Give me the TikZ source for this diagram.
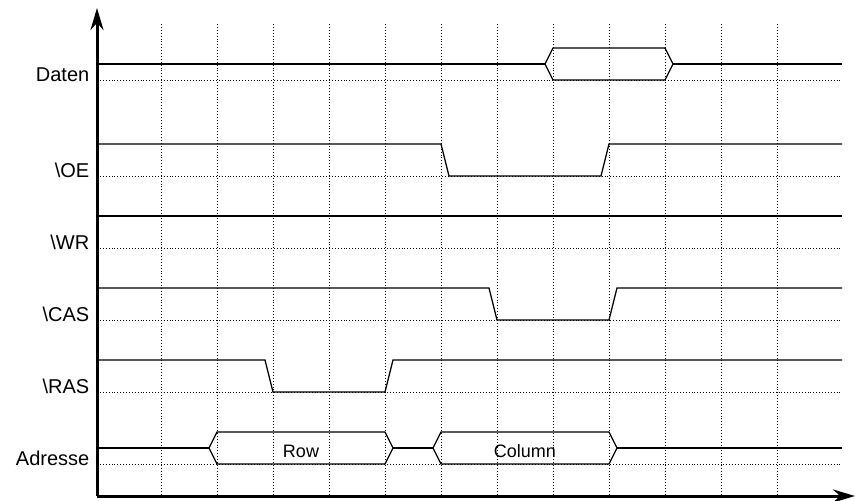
\documentclass[tikz,border=0pt]{standalone}
\usepackage{fontspec}
\setmainfont{Liberation Sans}
\usetikzlibrary{arrows.meta}

\tikzset{
  sig/.style={line width=1.3pt, black, line join=miter},
  helpline/.style={dotted, line width=0.9pt, black},
  axisline/.style={line width=3pt, black, -{Stealth[length=22pt, width=13pt]}},
  siglabel/.style={anchor=base east, inner sep=0pt, font=\fontsize{20}{24}\selectfont},
  buslabel/.style={anchor=base, inner sep=0pt, font=\fontsize{18}{22}\selectfont}
}

\begin{document}
\begin{tikzpicture}[x=1pt, y=-1pt]
      \useasboundingbox (0,0) rectangle (855,501);

      \foreach \x in {161,217,...,777}
        \draw[helpline] (\x,24) -- (\x,496);
      \foreach \y in {80,176,248,320,392,464}
        \draw[helpline] (97,\y) -- (842,\y);

      \coordinate (origin) at (97,496);
      \coordinate (ytip) at (97,8);
      \coordinate (xtip) at (855,496);
      \draw[axisline] (origin) -- (ytip);
      \draw[axisline] (origin) -- (xtip);

      \node[siglabel] (daten) at (89.5,81.5) {Daten};
      \node[siglabel] (oe) at (89.5,177.5) {\textbackslash OE};
      \node[siglabel] (wr) at (89.5,249.5) {\textbackslash WR};
      \node[siglabel] (cas) at (89.5,321.5) {\textbackslash CAS};
      \node[siglabel] (ras) at (89.5,393.5) {\textbackslash RAS};
      \node[siglabel] (adresse) at (89.5,465.5) {Adresse};

      % Daten
      \draw[sig] (97,64) -- (545,64);
      \draw[sig] (545,64) -- (553,48) -- (665,48) -- (673,64) -- (665,80) -- (553,80) -- cycle;
      \draw[sig] (673,64) -- (842,64);

      % \OE, \WR, \CAS, \RAS
      \draw[sig] (97,144) -- (441,144) -- (449,176) -- (601,176) -- (609,144) -- (842,144);
      \draw[sig] (97,216) -- (842,216);
      \draw[sig] (97,288) -- (489,288) -- (497,320) -- (609,320) -- (617,288) -- (842,288);
      \draw[sig] (97,360) -- (265,360) -- (273,392) -- (385,392) -- (393,360) -- (842,360);

      % Adresse
      \draw[sig] (97,448) -- (209,448);
      \draw[sig] (209,448) -- (217,432) -- (385,432) -- (393,448) -- (385,464) -- (217,464) -- cycle;
      \draw[sig] (393,448) -- (433,448);
      \draw[sig] (433,448) -- (441,432) -- (609,432) -- (617,448) -- (609,464) -- (441,464) -- cycle;
      \draw[sig] (617,448) -- (842,448);
      \node[buslabel] (row) at (301,457) {Row};
      \node[buslabel] (column) at (525,457) {Column};
    \end{tikzpicture}
\end{document}
